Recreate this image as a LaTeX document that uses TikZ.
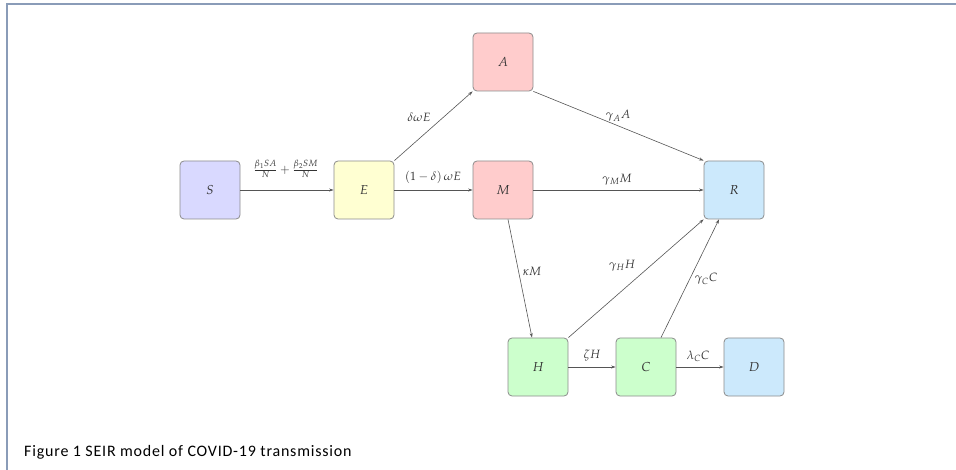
\documentclass[tikz,border=0pt]{standalone}
\usepackage{mathpazo}
\usepackage[no-math]{fontspec}
\newfontfamily\capfont[LetterSpace=5]{Carlito}
\usetikzlibrary{arrows.meta,calc}
\definecolor{bordercol}{HTML}{8A9CB8}
\definecolor{boxborder}{HTML}{8C8C8C}
\definecolor{linegray}{HTML}{555555}
\definecolor{labelgray}{HTML}{333333}
\definecolor{cS}{HTML}{D9D9FF}
\definecolor{cE}{HTML}{FFFFD2}
\definecolor{cA}{HTML}{FFCCCC}
\definecolor{cR}{HTML}{CCE9FC}
\definecolor{cH}{HTML}{CCFFCC}
\tikzset{
  box/.style={draw=boxborder, line width=0.8pt, rounded corners=4pt, minimum width=60pt, minimum height=58pt, inner sep=0pt, text=labelgray, font=\fontsize{13}{15}\selectfont},
  flow/.style={-{Stealth[length=4.5pt,width=3pt]}, draw=linegray, line width=0.6pt},
  lbl/.style={inner sep=0pt, text=labelgray, font=\fontsize{12}{14}\selectfont}
}
\begin{document}
\begin{tikzpicture}[x=1pt,y=-1pt]
\useasboundingbox (0,0) rectangle (956,470);
\draw[bordercol, line width=1.8pt] (7,470) -- (7,4) -- (956,4);
\node[box, fill=cS] (S) at (210,190) {$S$};
\node[box, fill=cE] (E) at (364,190) {$E$};
\node[box, fill=cA] (A) at (503,62) {$A$};
\node[box, fill=cA] (M) at (503,190) {$M$};
\node[box, fill=cR] (R) at (734,190) {$R$};
\node[box, fill=cH] (H) at (538,367) {$H$};
\node[box, fill=cH] (C) at (646,367) {$C$};
\node[box, fill=cR] (D) at (754,367) {$D$};
\draw[flow] (S) -- (E);
\draw[flow] (E.north east) -- (A.south west);
\draw[flow] (E) -- (M);
\draw[flow] (A.south east) -- (R.north west);
\draw[flow] (M) -- (R);
\draw[flow] ($(M.south)+(5,0)$) -- ($(H.north)+(-6,0)$);
\draw[flow] (H.north east) -- (R.south west);
\draw[flow] ($(C.north)+(15,0)$) -- ($(R.south)+(-15,0)$);
\draw[flow] (H) -- (C);
\draw[flow] (C) -- (D);
\node[lbl] (l1) at (286,169) {$\frac{\beta_1SA}{N}+\frac{\beta_2SM}{N}$};
\node[lbl] (l2) at (419,117) {$\delta\omega E$};
\node[lbl] (l3) at (433,177) {$(1-\delta)\,\omega E$};
\node[lbl] (l4) at (618,116) {$\gamma_A A$};
\node[lbl] (l5) at (617,180) {$\gamma_M M$};
\node[lbl] (l6) at (532,271) {$\kappa M$};
\node[lbl] (l7) at (622,266) {$\gamma_H H$};
\node[lbl] (l8) at (706,279) {$\gamma_C C$};
\node[lbl] (l9) at (592,356) {$\zeta H$};
\node[lbl] (l10) at (698,356) {$\lambda_C C$};
\node[anchor=base west, inner sep=0pt, font=\capfont\fontsize{16}{18}\selectfont] (cap) at (24,456) {Figure 1 SEIR model of COVID-19 transmission};
\end{tikzpicture}
\end{document}
